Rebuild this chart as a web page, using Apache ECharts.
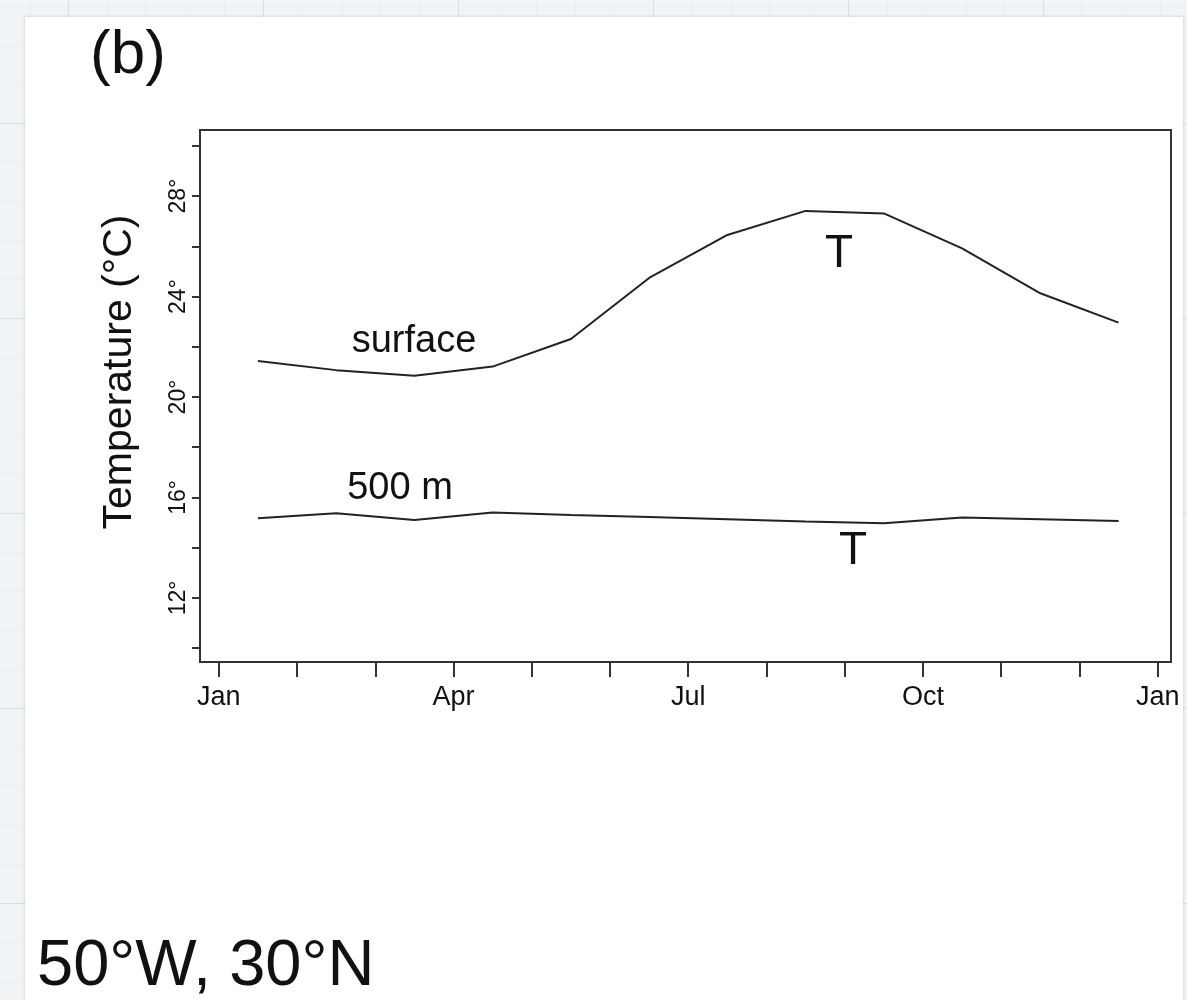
<!DOCTYPE html>
<html>
<head>
<meta charset="utf-8">
<script src="https://cdn.jsdelivr.net/npm/echarts@6/dist/echarts.min.js"></script>
<style>
  html, body { margin: 0; padding: 0; width: 1187px; height: 1000px; overflow: hidden; }
  body {
    background-color: #f1f4f7;
    background-image:
      linear-gradient(to right, rgba(190,210,230,0.45) 1px, transparent 1px),
      linear-gradient(to bottom, rgba(190,210,230,0.45) 1px, transparent 1px),
      linear-gradient(to right, rgba(205,220,235,0.25) 1px, transparent 1px),
      linear-gradient(to bottom, rgba(205,220,235,0.25) 1px, transparent 1px);
    background-size: 195px 195px, 195px 195px, 39px 39px, 39px 39px;
    background-position: 68px 123px, 68px 123px, 68px 123px, 68px 123px;
  }
  #panel { position: absolute; left: 25px; top: 17px; width: 1158px; height: 1000px; background: #fff;
           box-shadow: 0 0 2px 1px rgba(0,0,0,0.10); }
  #chart { position: absolute; left: 0; top: 0; width: 1187px; height: 1000px; }
</style>
</head>
<body>
<div id="panel"></div>
<div id="chart"></div>
<script>
// Months (points plotted at mid-month)
const months = ['Jan','Feb','Mar','Apr','May','Jun','Jul','Aug','Sep','Oct','Nov','Dec'];
// Surface temperature (°C)
const surfaceT = [21.43, 21.07, 20.85, 21.21, 22.31, 24.74, 26.45, 27.41, 27.31, 25.92, 24.13, 22.96];
// 500 m temperature (°C)
const t500m = [15.17, 15.37, 15.10, 15.40, 15.30, 15.22, 15.13, 15.04, 14.97, 15.20, 15.13, 15.06];
// Tick labels
const xTickLabels = ['Jan', 'Apr', 'Jul', 'Oct', 'Jan'];
const yTickLabels = [12, 16, 20, 24, 28];

const FONT = '"Liberation Sans", Arial, Helvetica, sans-serif';
const chart = echarts.init(document.getElementById('chart'), null, { renderer: 'canvas' });

const xTickValues = months.map((m, i) => i).concat([months.length]);
const xLabelValues = xTickLabels.map((l, i) => i * 3);
const yTickValues = [];
for (let v = 10; v <= 30; v += 2) yTickValues.push(v);

const option = {
  animation: false,
  backgroundColor: 'transparent',
  grid: {
    left: 200, top: 130, width: 971, height: 532,
    show: true, borderColor: '#333', borderWidth: 2, backgroundColor: 'transparent',
    containLabel: false, outerBoundsMode: 'none'
  },
  xAxis: {
    type: 'value', min: -0.24, max: 12.17,
    axisLine: { show: false, onZero: false },
    splitLine: { show: false },
    axisTick: { show: true, customValues: xTickValues, length: 15, inside: false,
                lineStyle: { color: '#333', width: 2 } },
    axisLabel: { show: true, customValues: xLabelValues, margin: 22,
                 formatter: (v) => xTickLabels[Math.round(v / 3)],
                 color: '#111', fontSize: 27, fontFamily: FONT }
  },
  yAxis: {
    type: 'value', min: 9.45, max: 30.63,
    name: 'Temperature (°C)', nameLocation: 'middle', nameRotate: 90, nameGap: 60,
    nameTextStyle: { color: '#111', fontSize: 41, fontFamily: FONT, padding: [0, 0, 0, 48] },
    axisLine: { show: false, onZero: false },
    splitLine: { show: false },
    axisTick: { show: true, customValues: yTickValues, length: 8, inside: false,
                lineStyle: { color: '#333', width: 2 } },
    axisLabel: { show: true, customValues: yTickLabels, rotate: 90, margin: 10,
                 formatter: (v) => v + '°',
                 color: '#111', fontSize: 23, fontFamily: FONT }
  },
  series: [
    {
      name: 'surface', type: 'line', symbol: 'none', smooth: false,
      lineStyle: { color: '#222', width: 2 },
      data: months.map((m, i) => [i + 0.5, surfaceT[i]])
    },
    {
      name: '500 m', type: 'line', symbol: 'none', smooth: false,
      lineStyle: { color: '#222', width: 2 },
      data: months.map((m, i) => [i + 0.5, t500m[i]])
    }
  ],
  graphic: [
    { type: 'text', style: { text: '(b)', x: 128, y: 56, textAlign: 'center', textVerticalAlign: 'middle',
        font: '62px ' + FONT, fill: '#111' } },
    { type: 'text', style: { text: '50°W, 30°N', x: 37, y: 967, textAlign: 'left', textVerticalAlign: 'middle',
        font: '65px ' + FONT, fill: '#111' } },
    { type: 'text', style: { text: 'surface', x: 414, y: 342, textAlign: 'center', textVerticalAlign: 'middle',
        font: '38px ' + FONT, fill: '#111' } },
    { type: 'text', style: { text: 'T', x: 839, y: 254, textAlign: 'center', textVerticalAlign: 'middle',
        font: '46px ' + FONT, fill: '#111' } },
    { type: 'text', style: { text: '500 m', x: 400, y: 489, textAlign: 'center', textVerticalAlign: 'middle',
        font: '38px ' + FONT, fill: '#111' } },
    { type: 'text', style: { text: 'T', x: 853, y: 551, textAlign: 'center', textVerticalAlign: 'middle',
        font: '46px ' + FONT, fill: '#111' } }
  ]
};
chart.setOption(option);
</script>
</body>
</html>
